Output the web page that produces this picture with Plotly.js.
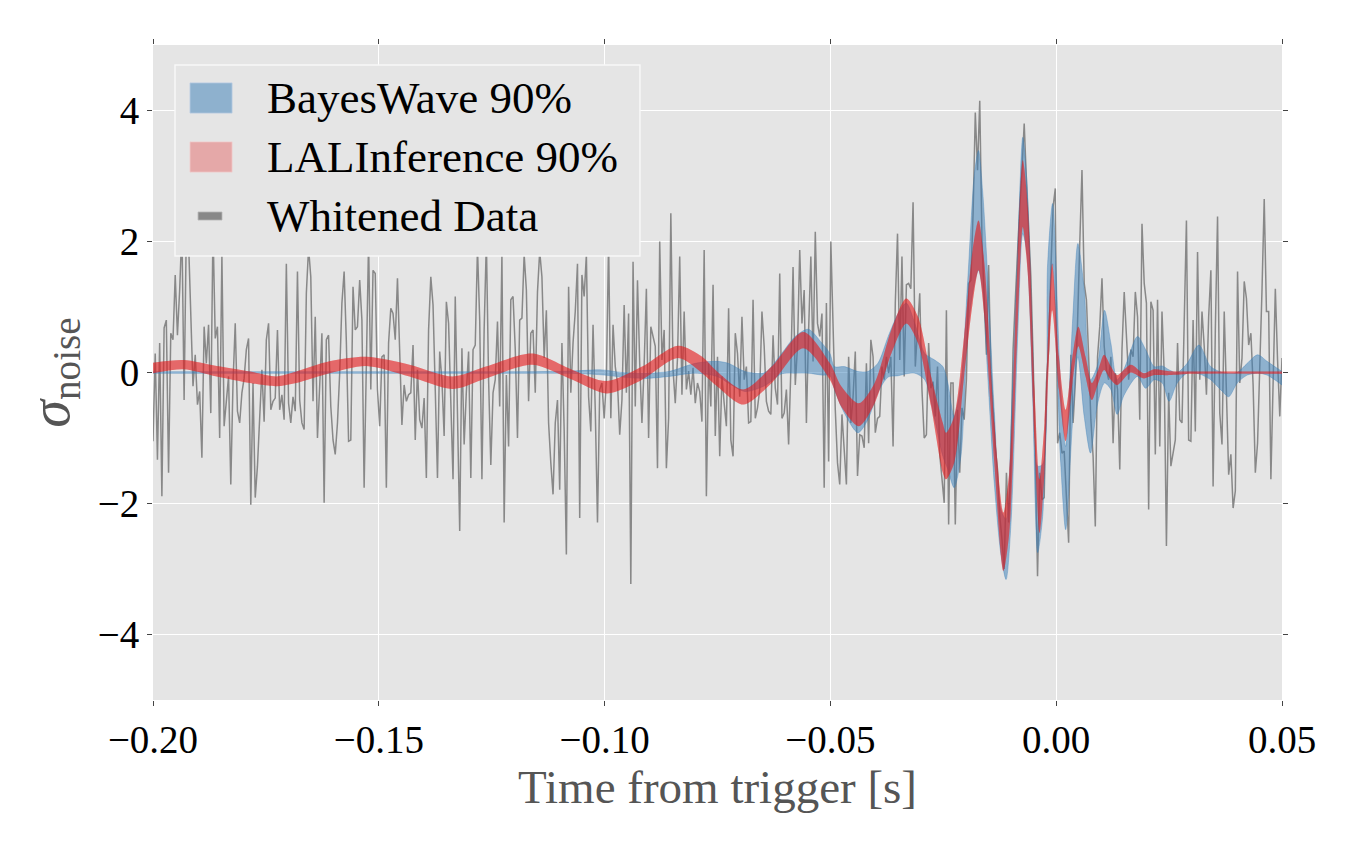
<!DOCTYPE html>
<html>
<head>
<meta charset="utf-8">
<script src="https://cdn.plot.ly/plotly-3.0.1.min.js"></script>
<style>html,body{margin:0;padding:0;background:#fff;}#chart{width:1361px;height:841px;}</style>
</head>
<body>
<div id="chart"></div>
<script>
// Whitened data (sigma noise), evenly sampled from t = -0.20 s to t = 0.05 s
const tStart = -0.20;
const tEnd = 0.05;
const whitened = [
// -0.200 .. -0.175
-1.05, 0.29, -1.33, 0.45, -1.89, 0.68, 0.80, -1.53, 0.60, 0.50, 1.49, 0.57, 1.26, 2.2, -0.42, 2.2, 2.0, 0.75, -0.21, 0.27,
-0.49, -0.29, -1.30, 0.70, 0.14, 0.73, -0.62, 2.2, 0.52, 0.70, -1.00, 1.79, -0.82, -0.44, -0.06, -1.71, -0.16, 0.75, -0.59, -0.77,
-0.31, -0.09, 0.35, 0.52, -2.02, -0.16, -1.91, -1.43, -0.57, 0.04,
// -0.175 .. -0.150
-0.75, 0.50, 0.75, -0.57, -0.44, -0.39, 0.65, -0.57, -0.34, -0.72, 1.66, -0.47, -0.77, -0.37, -0.59, 1.54, -0.42, -0.77, -0.87, 1.21,
1.9, 1.46, -0.44, 0.85, -1.00, -0.26, 0.60, -1.99, 0.50, 0.57, -0.52, -1.03, -1.25, -0.77, -0.01, 1.06, 1.54, 0.47, -1.05, -1.03,
1.31, 0.65, 0.70, 1.41, 0.80, -1.76, 0.19, 2.0, -0.26,
// -0.150 .. -0.125
1.56, 1.51, -0.26, -0.82, 0.24, 0.27, -1.76, 0.45, 0.98, 0.90, 0.50, 1.44, 0.24, -0.80, -0.19, -0.44, -0.34, -0.31, 0.42, -1.03,
0.04, -0.72, -0.85, -0.39, -1.61, 0.65, 1.46, 1.03, -0.26, -1.61, 0.32, -0.11, -0.97, 1.08, 0.75, -0.67, -1.63, 1.16, -0.57, -2.42,
0.37, -1.10, -0.29, 0.32, -1.61, 0.35, 0.42, 1.9, 0.80, -1.63, 0.65, 2.0,
// -0.125 .. -0.100
-0.11, -1.41, -0.31, -0.11, 0.78, -0.52, 1.8, -2.29, -0.04, -1.13, 1.11, 1.16, 0.35, -1.00, 0.80, 0.83, 1.8, 1.26, -0.44, 0.60,
0.65, -0.31, 1.23, 1.85, 1.46, 0.22, 0.95, -0.77, -1.38, -1.86, -0.77, -0.42, -1.79, 0.45, -0.87, -2.78, 1.31, -0.31, 0.45, 0.93,
1.66, -2.22, 1.49, 1.16, 1.8, -0.37, -0.90, 0.73, -0.57, -2.29, -0.26,
// -0.100 .. -0.075
-0.16, -0.70, -0.11, 2.0, -0.70, 0.73, 0.09, -0.16, -0.95, -0.42, 1.03, -0.31, 0.90, -3.23, 1.69, -0.52, 1.41, 0.14, -0.77, 0.12,
1.28, -1.00, 0.70, 0.55, 0.40, -1.46, 2.0, 0.19, 0.65, -1.46, -0.70, 2.43, 0.04, -0.47, 0.22, 1.77, -0.34, 0.93, -0.26, 0.02,
-0.34, 0.07, -0.47, -0.16, -0.29, -0.75, 1.87, -1.89, 0.14, -0.52, 1.34, -0.97,
// -0.075 .. -0.050
0.24, -1.28, -0.06, -0.47, -0.82, 0.98, -1.03, -1.28, 0.60, 0.29, -0.37, 0.85, -0.11, 0.09, -0.77, -0.75, 1.11, -0.70, -0.54, -0.26,
0.93, 0.40, -0.44, -0.59, -0.64, 0.57, -0.24, -0.49, 1.51, -0.70, -0.62, -0.26, -1.10, 0.04, 1.61, -0.19, 0.40, 1.87, 0.75, 1.26,
-0.77, 0.65, 1.77, 0.17, 2.15, 0.75, 0.55, 0.90, -1.76, 1.06, -1.36,
// -0.050 .. -0.025
2.0, 0.65, -0.57, -1.38, -1.71, -0.64, -1.18, -1.71, 0.24, -0.77, -0.37, 0.32, -1.58, -0.95, -0.97, -1.15, 0.14, -1.08, 0.50, 0.24,
-0.92, -0.70, -0.67, 0.09, -0.11, 0.24, -0.01, 0.24, -1.13, 1.06, 2.12, 0.19, 1.77, -0.06, 1.34, 1.36, 1.28, 2.60, 0.09, 0.65,
1.21, -0.26, -1.00, -0.95, 0.45, -0.24, -0.14, -0.67, 0.09, -1.25, -1.58,
// -0.025 .. 0.000
-1.99, 0.95, -2.32, -0.16, -0.16, -2.32, -0.57, -1.53, -0.54, -0.72, -0.11, 1.36, 1.41, 2.43, 3.97, 3.09, 4.15, 2.02, 1.26, 0.27,
1.64, 0.04, -0.54, -1.15, -1.48, -2.19, -2.55, -3.0, -1.53, -2.29, -1.38, 0.35, 1.11, 1.92, 2.53, 3.09, 3.80, 2.93, 2.27, 1.46,
0.24, -1.18, -3.11, -1.53, -1.94, -1.91, -0.16, 0.35, 1.56, 2.53, 2.81,
// 0.000 .. 0.025
-1.08, -0.92, -1.23, -1.20, -1.99, -2.60, 0.27, -0.77, -0.16, 0.75, 1.97, 3.09, 1.36, 1.11, 0.24, -0.72, -1.28, -2.35, 0.24, 0.70,
1.44, 0.40, 0.04, -0.11, 0.24, -1.08, -0.01, -0.26, -1.48, 0.35, 1.23, 0.45, -0.11, 0.35, 0.24, 1.23, 0.85, -0.72, 2.27, 1.36,
1.06, -2.09, 1.08, 0.95, -1.25, 1.11, -1.13, 0.93, -0.01, -2.65,
// 0.025 .. 0.050
-0.31, -1.43, -1.25, -1.03, 0.45, -0.72, -0.77, 0.65, 2.32, -1.03, -1.05, 0.80, -0.90, 1.84, -0.11, 0.93, 0.40, -0.34, 0.85, 1.56,
-1.74, 0.65, 2.38, -0.62, -1.10, 0.93, -0.31, -1.56, -1.25, -2.07, -1.81, 1.54, -0.16, 0.22, 1.39, 1.13, 0.42, 0.60, -0.19, -1.53,
-1.08, -0.01, 1.26, 2.65, 0.93, 0.93, -1.63, -0.16, 1.28, 0.19, -0.67, 0.22
];

// BayesWave 90% credible band
const bwTime = [-0.2000,-0.1500,-0.1200,-0.1080,-0.1006,-0.0961,-0.0910,-0.0858,-0.0799,-0.0751,-0.0726,-0.0689,-0.0645,-0.0608,-0.0578,-0.0549,-0.0519,-0.0501,-0.0491,-0.0469,-0.0439,-0.0417,-0.0395,-0.0372,-0.0350,-0.0332,-0.0313,-0.0291,-0.0269,-0.0251,-0.0240,-0.0226,-0.0211,-0.0196,-0.0181,-0.0172,-0.0163,-0.0152,-0.0137,-0.0122,-0.0111,-0.0100,-0.0085,-0.0074,-0.0065,-0.0052,-0.0041,-0.0030,-0.0019,-0.0008,0.0010,0.0021,0.0036,0.0048,0.0062,0.0076,0.0091,0.0107,0.0121,0.0135,0.0150,0.0180,0.0198,0.0217,0.0235,0.0250,0.0268,0.0290,0.0316,0.0342,0.0368,0.0382,0.0401,0.0423,0.0446,0.0467,0.0500];
const bwLower = [-0.012,-0.012,-0.012,-0.012,-0.036,-0.07,-0.09,-0.06,-0.01,-0.06,-0.16,-0.29,-0.20,-0.02,-0.01,-0.01,-0.04,-0.05,-0.26,-0.62,-0.92,-0.72,-0.31,-0.07,-0.05,-0.02,-0.01,-0.11,-0.72,-1.28,-1.48,-1.76,-1.28,0.60,1.36,1.56,1.26,0.00,-1.70,-2.80,-3.16,-2.29,0.60,2.12,1.82,-0.40,-2.75,-2.20,0.20,1.66,-1.38,-2.40,-0.77,0.24,-0.67,-1.23,-0.50,-0.16,-0.26,-0.64,-0.35,-0.06,-0.24,-0.11,-0.16,-0.44,-0.16,-0.01,-0.02,-0.11,-0.29,-0.37,-0.16,-0.04,-0.01,-0.04,-0.19];
const bwUpper = [0.012,0.012,0.012,0.02,0.04,0.00,-0.01,0.015,0.14,0.17,0.14,0.015,0.00,0.29,0.55,0.66,0.45,0.29,0.09,0.09,0.015,0.015,0.14,0.55,0.90,1.06,0.75,0.29,0.19,0.09,-0.16,-0.67,-0.16,1.40,3.04,3.39,2.78,1.50,-0.60,-2.10,-2.24,-0.77,1.90,3.59,2.93,0.40,-1.43,-1.40,1.66,2.58,-0.26,-1.13,0.75,1.97,1.26,-0.11,0.10,0.95,0.45,-0.11,0.05,0.55,0.35,0.09,0.10,0.04,0.00,0.14,0.42,0.09,0.00,-0.01,0.00,0.14,0.27,0.17,0.015];

// LALInference 90% credible band
const liTime = [-0.2000,-0.1933,-0.1859,-0.1785,-0.1727,-0.1683,-0.1609,-0.1528,-0.1432,-0.1336,-0.1263,-0.1160,-0.1071,-0.0995,-0.0917,-0.0837,-0.0784,-0.0751,-0.0693,-0.0630,-0.0560,-0.0501,-0.0476,-0.0437,-0.0402,-0.0365,-0.0332,-0.0306,-0.0277,-0.0251,-0.0244,-0.0226,-0.0204,-0.0185,-0.0172,-0.0159,-0.0137,-0.0117,-0.0104,-0.0087,-0.0074,-0.0063,-0.0048,-0.0037,-0.0026,-0.0009,0.0006,0.0021,0.0036,0.0049,0.0065,0.0079,0.0093,0.0106,0.0121,0.0135,0.0165,0.0194,0.0217,0.0250,0.0300,0.0500];
const liLower = [-0.01,0.05,-0.06,-0.16,-0.21,-0.16,-0.01,0.10,-0.06,-0.25,-0.09,0.12,-0.11,-0.32,-0.11,0.22,-0.01,-0.21,-0.49,-0.16,0.37,-0.11,-0.52,-0.82,-0.47,0.29,0.75,0.45,-0.52,-1.53,-1.63,-1.38,-0.06,1.06,1.56,0.85,-1.38,-3.03,-2.45,0.45,2.22,1.51,-1.03,-2.45,-1.53,0.95,-0.26,-1.05,-0.16,0.40,-0.06,-0.42,-0.16,0.04,-0.11,-0.19,0.00,-0.09,-0.04,-0.04,-0.02,-0.02];
const liUpper = [0.15,0.19,0.10,0.015,-0.06,0.015,0.17,0.24,0.12,-0.06,0.09,0.29,0.04,-0.13,0.09,0.41,0.24,0.015,-0.26,0.09,0.62,0.14,-0.21,-0.47,-0.16,0.65,1.13,0.85,-0.06,-0.77,-0.92,-0.67,0.55,1.87,2.32,1.66,-0.77,-2.14,-1.53,1.46,3.24,2.53,-0.26,-1.63,-0.77,1.66,0.24,-0.57,0.24,0.70,0.24,-0.16,0.04,0.27,0.09,-0.04,0.12,-0.01,0.05,0.02,0.015,0.015];

const xTicks = [-0.20, -0.15, -0.10, -0.05, 0.00, 0.05];
const yTicks = [-4, -2, 0, 2, 4];
const legendLabels = ['BayesWave 90%', 'LALInference 90%', 'Whitened Data'];

const dt = (tEnd - tStart) / (whitened.length - 1);
const dataTime = whitened.map((_, i) => tStart + i * dt);

const FONT = 'Liberation Serif, "Times New Roman", serif';
const BLUE = 'rgba(55,126,184,0.5)';
const RED_LIGHT = 'rgba(228,26,28,0.3)';
const RED_EXTRA = 'rgba(228,26,28,0.45)';
const GRAY = '#888888';
const bandLine = {shape: 'spline', smoothing: 0.8, width: 0, color: 'rgba(0,0,0,0)'};

const traces = [
  {x: dataTime, y: whitened, type: 'scatter', mode: 'lines', line: {color: GRAY, width: 1.5}, name: legendLabels[2], hoverinfo: 'skip'},
  {x: bwTime, y: bwLower, type: 'scatter', mode: 'lines', line: Object.assign({}, bandLine, {color: 'rgba(55,126,184,0.45)', width: 0.8}), hoverinfo: 'skip'},
  {x: bwTime, y: bwUpper, type: 'scatter', mode: 'lines', fill: 'tonexty', fillcolor: BLUE, line: Object.assign({}, bandLine, {color: 'rgba(55,126,184,0.45)', width: 0.8}), name: legendLabels[0], hoverinfo: 'skip'},
  {x: liTime, y: liLower, type: 'scatter', mode: 'lines', line: bandLine, hoverinfo: 'skip'},
  {x: liTime, y: liUpper, type: 'scatter', mode: 'lines', fill: 'tonexty', fillcolor: RED_LIGHT, line: bandLine, name: legendLabels[1], hoverinfo: 'skip'},
  {x: liTime, y: liLower, type: 'scatter', mode: 'lines', line: bandLine, hoverinfo: 'skip'},
  {x: liTime, y: liUpper, type: 'scatter', mode: 'lines', fill: 'tonexty', fillcolor: RED_EXTRA, line: bandLine, hoverinfo: 'skip'}
];

// Hand-drawn legend box (paper coordinates), matching the reference's large swatches
const legBox = {x0: 0.0195, x1: 0.4313, y0: 0.678, y1: 0.9695};
const swX0 = 0.0328, swX1 = 0.0700;
const rowY = [0.9191, 0.8290, 0.7389];
const swHalf = 0.0230;
const shapes = [
  {type: 'rect', xref: 'paper', yref: 'paper', layer: 'above', x0: legBox.x0, x1: legBox.x1, y0: legBox.y0, y1: legBox.y1,
   fillcolor: '#e5e5e5', line: {color: '#f8f8f8', width: 1.5}},
  {type: 'rect', xref: 'paper', yref: 'paper', layer: 'above', x0: swX0, x1: swX1, y0: rowY[0] - swHalf, y1: rowY[0] + swHalf,
   fillcolor: BLUE, line: {color: 'rgba(180,200,225,0.8)', width: 1}},
  {type: 'rect', xref: 'paper', yref: 'paper', layer: 'above', x0: swX0, x1: swX1, y0: rowY[1] - swHalf, y1: rowY[1] + swHalf,
   fillcolor: RED_LIGHT, line: {color: 'rgba(240,200,200,0.8)', width: 1}},
  {type: 'rect', xref: 'paper', yref: 'paper', layer: 'above', x0: 0.0399, x1: 0.0611, y0: rowY[2] - 0.0061, y1: rowY[2] + 0.0061,
   fillcolor: GRAY, line: {color: 'rgba(180,180,180,0.8)', width: 1}}
];
const annotations = legendLabels.map((txt, i) => ({
  text: txt, xref: 'paper', yref: 'paper', x: 0.0992, y: rowY[i], xanchor: 'left', yanchor: 'middle',
  showarrow: false, font: {family: FONT, size: 45, color: '#000000'}
}));

const layout = {
  width: 1361, height: 841,
  paper_bgcolor: '#ffffff', plot_bgcolor: '#e5e5e5',
  margin: {l: 153, r: 79, t: 45, b: 141},
  font: {family: FONT, color: '#000000'},
  showlegend: false,
  shapes: shapes,
  annotations: annotations,
  xaxis: {
    range: [-0.2, 0.05], tickvals: xTicks, tickformat: '.2f',
    showgrid: true, gridcolor: '#ffffff', gridwidth: 1, zeroline: false,
    showline: false, ticks: 'outside', ticklen: 5, tickwidth: 1, tickcolor: '#444444', mirror: 'ticks',
    tickfont: {family: FONT, size: 39, color: '#000000'},
    title: {text: 'Time from trigger [s]', font: {family: FONT, size: 47, color: '#555555'}, standoff: 10}
  },
  yaxis: {
    range: [-5, 5], tickvals: yTicks,
    showgrid: true, gridcolor: '#ffffff', gridwidth: 1, zeroline: false,
    showline: false, ticks: 'outside', ticklen: 5, tickwidth: 1, tickcolor: '#444444', mirror: 'ticks',
    tickfont: {family: FONT, size: 39, color: '#000000'},
    title: {text: '<i>σ</i><sub>noise</sub>', font: {family: FONT, size: 56, color: '#555555'}, standoff: 10}
  }
};

Plotly.newPlot('chart', traces, layout, {displayModeBar: false, staticPlot: true});
</script>
</body>
</html>
